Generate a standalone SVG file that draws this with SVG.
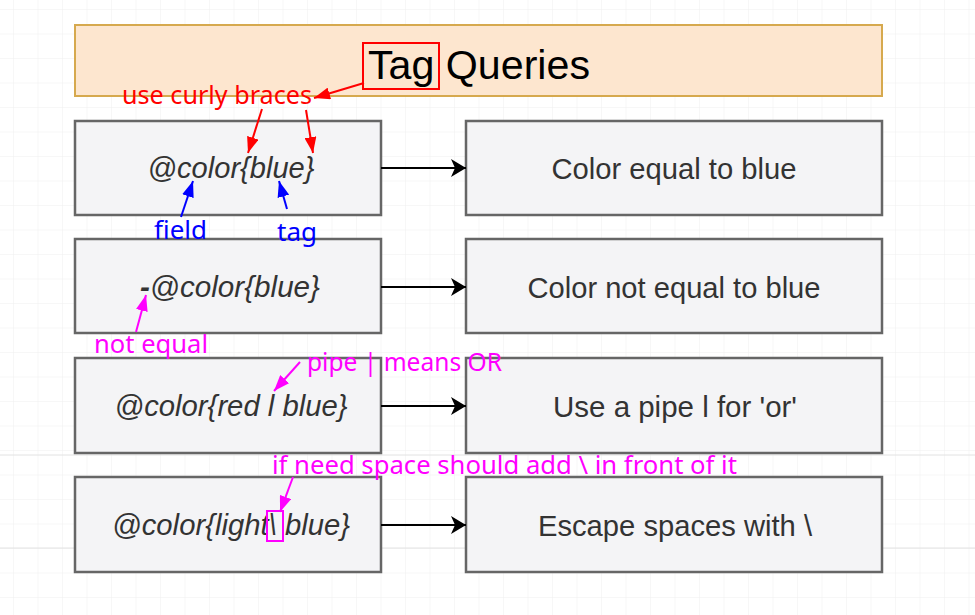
<svg xmlns="http://www.w3.org/2000/svg" width="975" height="615" viewBox="0 0 975 615">
<style>
.box{fill:#f4f4f6;stroke:#666;stroke-width:2.5}
.title{fill:#fde6cf;stroke:#d6a94e;stroke-width:2}
.lt{font-family:"Liberation Sans",Arial,sans-serif;font-style:italic;font-size:29px;fill:#333;text-anchor:middle}
.rt{font-family:"Liberation Sans",Arial,sans-serif;font-size:29px;fill:#333;text-anchor:middle}
.ann{font-family:"Noto Sans","Open Sans",sans-serif;font-size:25px}
.conn{stroke:#000;stroke-width:2;fill:none}
</style>
<defs>
<pattern id="grid" width="24.5" height="24.5" patternUnits="userSpaceOnUse" x="13" y="9">
<path d="M0 0H24.5M0 0V24.5" stroke="#f0f0f0" stroke-width="1" fill="none"/>
</pattern>
<marker id="ah" viewBox="0 0 15 18" refX="15" refY="9" markerWidth="15" markerHeight="18" markerUnits="userSpaceOnUse" orient="auto">
<path d="M0 0L15 9L0 18L4 9Z" fill="#000"/>
</marker>
<marker id="ar" viewBox="0 0 16 12" refX="16" refY="6" markerWidth="16" markerHeight="12" markerUnits="userSpaceOnUse" orient="auto">
<path d="M0 0L16 6L0 12Z" fill="#f00"/>
</marker>
<marker id="ab" viewBox="0 0 16 12" refX="16" refY="6" markerWidth="16" markerHeight="12" markerUnits="userSpaceOnUse" orient="auto">
<path d="M0 0L16 6L0 12Z" fill="#00f"/>
</marker>
<marker id="am" viewBox="0 0 16 12" refX="16" refY="6" markerWidth="16" markerHeight="12" markerUnits="userSpaceOnUse" orient="auto">
<path d="M0 0L16 6L0 12Z" fill="#f0f"/>
</marker>
</defs>
<rect width="975" height="615" fill="#fff"/>
<rect width="975" height="615" fill="url(#grid)"/>
<path d="M0 548H975M0 455H975" stroke="#e2e2e2" stroke-width="1"/>

<g id="title">
<rect class="title" x="75" y="25" width="807" height="71"/>
<text x="368" y="79" font-family="Liberation Sans,Arial,sans-serif" font-size="40" fill="#000" textLength="222" lengthAdjust="spacingAndGlyphs">Tag Queries</text>
<rect x="363" y="43" width="76" height="46" fill="none" stroke="#f00" stroke-width="2"/>
</g>

<g id="q1"><rect class="box" x="75" y="121" width="306" height="94"/><text class="lt" x="231" y="178" textLength="167" lengthAdjust="spacingAndGlyphs">@color{blue}</text></g>
<g id="q2"><rect class="box" x="75" y="239" width="306" height="94"/><text class="lt" x="230" y="297" textLength="180" lengthAdjust="spacingAndGlyphs"><tspan font-weight="bold">-</tspan>@color{blue}</text></g>
<g id="q3"><rect class="box" x="75" y="358" width="306" height="95"/><text class="lt" x="231" y="416" textLength="233" lengthAdjust="spacingAndGlyphs">@color{red l blue}</text></g>
<g id="q4"><rect class="box" x="75" y="477" width="306" height="95"/><text class="lt" x="231" y="535" textLength="238" lengthAdjust="spacingAndGlyphs">@color{light\ blue}</text></g>

<g id="r1"><rect class="box" x="466" y="121" width="416" height="94"/><text class="rt" x="674" y="179" textLength="245" lengthAdjust="spacingAndGlyphs">Color equal to blue</text></g>
<g id="r2"><rect class="box" x="466" y="239" width="416" height="94"/><text class="rt" x="674" y="298" textLength="293" lengthAdjust="spacingAndGlyphs">Color not equal to blue</text></g>
<g id="r3"><rect class="box" x="466" y="358" width="416" height="95"/><text class="rt" x="675" y="417" textLength="244" lengthAdjust="spacingAndGlyphs">Use a pipe l for 'or'</text></g>
<g id="r4"><rect class="box" x="466" y="477" width="416" height="95"/><text class="rt" x="675" y="536" textLength="274" lengthAdjust="spacingAndGlyphs">Escape spaces with \</text></g>

<g id="connectors">
<path class="conn" d="M381 168H466" marker-end="url(#ah)"/>
<path class="conn" d="M381 287H466" marker-end="url(#ah)"/>
<path class="conn" d="M381 406H466" marker-end="url(#ah)"/>
<path class="conn" d="M381 525H466" marker-end="url(#ah)"/>
</g>

<g id="annotations">
<rect x="267" y="511" width="16" height="30" fill="none" stroke="#f0f" stroke-width="2"/>
<text class="ann" x="122" y="104" fill="#f00" textLength="190" lengthAdjust="spacingAndGlyphs">use curly braces</text>
<text class="ann" x="154" y="239" fill="#00f" textLength="53" lengthAdjust="spacingAndGlyphs">field</text>
<text class="ann" x="277" y="241" fill="#00f" textLength="40" lengthAdjust="spacingAndGlyphs">tag</text>
<text class="ann" x="94" y="353" fill="#f0f" textLength="114" lengthAdjust="spacingAndGlyphs">not equal</text>
<text class="ann" x="307" y="371" fill="#f0f" textLength="195" lengthAdjust="spacingAndGlyphs">pipe | means OR</text>
<text class="ann" x="272" y="474" fill="#f0f" textLength="465" lengthAdjust="spacingAndGlyphs">if need space should add \ in front of it</text>
<path d="M364 83L314 98" stroke="#f00" stroke-width="2" marker-end="url(#ar)"/>
<path d="M262 109L248 153" stroke="#f00" stroke-width="2" marker-end="url(#ar)"/>
<path d="M306 110L313 153" stroke="#f00" stroke-width="2" marker-end="url(#ar)"/>
<path d="M181 217L193 181" stroke="#00f" stroke-width="2" marker-end="url(#ab)"/>
<path d="M287 209L279 181" stroke="#00f" stroke-width="2" marker-end="url(#ab)"/>
<path d="M136 332L146 295" stroke="#f0f" stroke-width="2" marker-end="url(#am)"/>
<path d="M300 362L274 391" stroke="#f0f" stroke-width="2" marker-end="url(#am)"/>
<path d="M293 477L280 512" stroke="#f0f" stroke-width="2" marker-end="url(#am)"/>
</g>
</svg>
